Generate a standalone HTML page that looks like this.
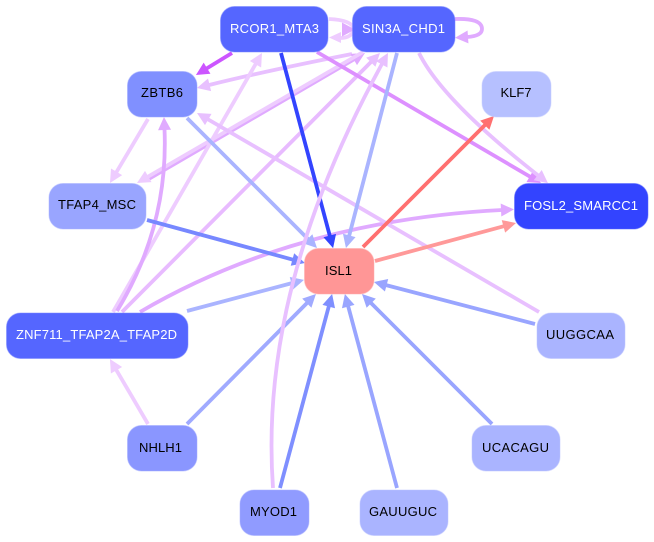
<!DOCTYPE html>
<html>
<head>
<meta charset="utf-8">
<style>
html,body{margin:0;padding:0;background:#fff;}
svg{display:block;}
marker{overflow:visible;}
text{font-family:"Liberation Sans",sans-serif;font-size:13px;text-anchor:middle;}
path.e{fill:none;stroke-width:3.8;}
rect{stroke-width:1;stroke-opacity:.5;}
</style>
</head>
<body>
<svg width="654" height="542" viewBox="0 0 654 542" xmlns="http://www.w3.org/2000/svg">
<defs>
<marker id="a1" markerUnits="userSpaceOnUse" markerWidth="16" markerHeight="14" refX="0" refY="7" orient="auto"><path d="M-1 0.500L12 7L-1 13.500z" fill="#3344ff"/></marker>
<marker id="a2" markerUnits="userSpaceOnUse" markerWidth="16" markerHeight="14" refX="0" refY="7" orient="auto"><path d="M-1 0.500L12 7L-1 13.500z" fill="#aab4ff"/></marker>
<marker id="a3" markerUnits="userSpaceOnUse" markerWidth="16" markerHeight="14" refX="0" refY="7" orient="auto"><path d="M-1 0.500L12 7L-1 13.500z" fill="#e8c0ff"/></marker>
<marker id="a4" markerUnits="userSpaceOnUse" markerWidth="16" markerHeight="14" refX="0" refY="7" orient="auto"><path d="M-1 0.500L12 7L-1 13.500z" fill="#dd90ff"/></marker>
<marker id="a5" markerUnits="userSpaceOnUse" markerWidth="16" markerHeight="14" refX="0" refY="7" orient="auto"><path d="M-1 0.500L12 7L-1 13.500z" fill="#cc55ff"/></marker>
<marker id="a6" markerUnits="userSpaceOnUse" markerWidth="16" markerHeight="14" refX="0" refY="7" orient="auto"><path d="M-1 0.500L12 7L-1 13.500z" fill="#7788ff"/></marker>
<marker id="a7" markerUnits="userSpaceOnUse" markerWidth="16" markerHeight="14" refX="0" refY="7" orient="auto"><path d="M-1 0.500L12 7L-1 13.500z" fill="#eeccff"/></marker>
<marker id="a8" markerUnits="userSpaceOnUse" markerWidth="16" markerHeight="14" refX="0" refY="7" orient="auto"><path d="M-1 0.500L12 7L-1 13.500z" fill="#e0aaff"/></marker>
<marker id="a9" markerUnits="userSpaceOnUse" markerWidth="16" markerHeight="14" refX="0" refY="7" orient="auto"><path d="M-1 0.500L12 7L-1 13.500z" fill="#a0aaff"/></marker>
<marker id="a10" markerUnits="userSpaceOnUse" markerWidth="16" markerHeight="14" refX="0" refY="7" orient="auto"><path d="M-1 0.500L12 7L-1 13.500z" fill="#7f8fff"/></marker>
<marker id="a11" markerUnits="userSpaceOnUse" markerWidth="16" markerHeight="14" refX="0" refY="7" orient="auto"><path d="M-1 0.500L12 7L-1 13.500z" fill="#99a5ff"/></marker>
<marker id="a12" markerUnits="userSpaceOnUse" markerWidth="16" markerHeight="14" refX="0" refY="7" orient="auto"><path d="M-1 0.500L12 7L-1 13.500z" fill="#ff7070"/></marker>
<marker id="a13" markerUnits="userSpaceOnUse" markerWidth="16" markerHeight="14" refX="0" refY="7" orient="auto"><path d="M-1 0.500L12 7L-1 13.500z" fill="#ff9999"/></marker>
</defs>

<!-- edges -->
<path class="e" d="M329 19Q352 20 354 29Q352 38 340 38" stroke="#eeccff"/>
<polygon points="341,32 329,37.500 341,43" fill="#eeccff"/>
<polygon points="342,22.500 355,29.500 342,36.500" fill="#e0aaff"/>
<path class="e" d="M455 19Q482 18 482 29Q482 36 467 37" stroke="#e0aaff" marker-end="url(#a8)"/>

<path class="e" d="M232 53L206.200 68.700" stroke="#cc55ff" marker-end="url(#a5)"/>
<path class="e" d="M352 54Q270 70 208.600 85.100" stroke="#e8c0ff" marker-end="url(#a3)"/>
<path class="e" d="M148 119L116.100 172.700" stroke="#eeccff" marker-end="url(#a7)"/>
<path class="e" d="M147 180L354.600 59" stroke="#e0aaff" marker-end="url(#a8)"/>
<path class="e" d="M363 52L147.400 177" stroke="#eeccff" marker-end="url(#a7)"/>
<path class="e" d="M113 312L256 63.400" stroke="#eeccff" marker-end="url(#a7)"/>
<path class="e" d="M117 311C142 270 168 210 164.500 129" stroke="#e0aaff" marker-end="url(#a8)"/>
<path class="e" d="M122 312L371.500 61.500" stroke="#e8bbff" marker-end="url(#a3)"/>
<path class="e" d="M140 312C220 265 340 218 502 210" stroke="#e0aaff" marker-end="url(#a8)"/>
<path class="e" d="M317 52L530.600 177" stroke="#dd90ff" marker-end="url(#a4)"/>
<path class="e" d="M419 53Q442 100 538.500 175.700" stroke="#e8c0ff" marker-end="url(#a3)"/>
<path class="e" d="M539 312L207.400 119" stroke="#e8c0ff" marker-end="url(#a3)"/>
<path class="e" d="M187 118L308.500 239.500" stroke="#aab4ff" marker-end="url(#a2)"/>
<path class="e" d="M397 53L349 236.400" stroke="#aab4ff" marker-end="url(#a2)"/>
<path class="e" d="M281 53L330 236.500" stroke="#3344ff" marker-end="url(#a1)"/>
<path class="e" d="M147 220L293.400 259.800" stroke="#7788ff" marker-end="url(#a6)"/>
<path class="e" d="M187 311L292.400 283" stroke="#aab4ff" marker-end="url(#a2)"/>
<path class="e" d="M148 424L116 369.400" stroke="#eeccff" marker-end="url(#a7)"/>
<path class="e" d="M187 424L307.500 302.500" stroke="#a0aaff" marker-end="url(#a9)"/>
<path class="e" d="M273 488C266 390 280 250 382.200 63.500" stroke="#e8c0ff" marker-end="url(#a3)"/>
<path class="e" d="M280 488L329 305.600" stroke="#7f8fff" marker-end="url(#a10)"/>
<path class="e" d="M397 488L348 305.600" stroke="#99a5ff" marker-end="url(#a11)"/>
<path class="e" d="M492 424L370.500 302.500" stroke="#99a5ff" marker-end="url(#a11)"/>
<path class="e" d="M535 324L385.600 285" stroke="#99a5ff" marker-end="url(#a11)"/>
<path class="e" d="M363 247L485.500 124.500" stroke="#ff7070" marker-end="url(#a12)"/>
<path class="e" d="M375 261L504.400 226.100" stroke="#ff9999" marker-end="url(#a13)"/>

<!-- nodes -->
<rect x="220.500" y="6.500" width="107.500" height="45.500" rx="14" fill="#5566ff" stroke="#7785ff"/>
<text x="274.500" y="33" fill="#fff" textLength="89" lengthAdjust="spacing">RCOR1_MTA3</text>
<rect x="352.500" y="6.500" width="102.500" height="45.500" rx="14" fill="#5566ff" stroke="#7785ff"/>
<text x="403.500" y="33" fill="#fff" textLength="83" lengthAdjust="spacing">SIN3A_CHD1</text>
<rect x="127.500" y="71.500" width="69.500" height="45.500" rx="14" fill="#8090ff" stroke="#99a5ff"/>
<text x="162" y="97" fill="#000" textLength="42" lengthAdjust="spacing">ZBTB6</text>
<rect x="482" y="71.500" width="69" height="45.500" rx="14" fill="#b6c0ff" stroke="#c6ceff"/>
<text x="516" y="97" fill="#000" textLength="31" lengthAdjust="spacing">KLF7</text>
<rect x="49" y="183.500" width="97" height="45.500" rx="14" fill="#99a5ff" stroke="#aab4ff"/>
<text x="97" y="209" fill="#000" textLength="78" lengthAdjust="spacing">TFAP4_MSC</text>
<rect x="514.500" y="183.500" width="133.500" height="45.500" rx="14" fill="#3344ff" stroke="#5566ff"/>
<text x="581" y="210" fill="#fff" textLength="114" lengthAdjust="spacing">FOSL2_SMARCC1</text>
<rect x="304.500" y="248.500" width="69.500" height="45.500" rx="14" fill="#ff9696" stroke="#ffaaaa"/>
<text x="338.500" y="275" fill="#000" textLength="27" lengthAdjust="spacing">ISL1</text>
<rect x="6.500" y="313" width="181.500" height="45.500" rx="14" fill="#5566ff" stroke="#7785ff"/>
<text x="96.500" y="339" fill="#fff" textLength="161" lengthAdjust="spacing">ZNF711_TFAP2A_TFAP2D</text>
<rect x="537" y="313" width="88" height="45.500" rx="14" fill="#aab4ff" stroke="#bcc4ff"/>
<text x="580" y="339" fill="#000" textLength="68" lengthAdjust="spacing">UUGGCAA</text>
<rect x="127.500" y="425.500" width="69.500" height="45.500" rx="14" fill="#8a96ff" stroke="#a0aaff"/>
<text x="160.500" y="452" fill="#000" textLength="43" lengthAdjust="spacing">NHLH1</text>
<rect x="472" y="425.500" width="88" height="45.500" rx="14" fill="#aab4ff" stroke="#bcc4ff"/>
<text x="515.500" y="452" fill="#000" textLength="67" lengthAdjust="spacing">UCACAGU</text>
<rect x="240" y="490" width="69" height="45.500" rx="14" fill="#909bff" stroke="#a5aeff"/>
<text x="273.500" y="516" fill="#000" textLength="47" lengthAdjust="spacing">MYOD1</text>
<rect x="360" y="490" width="88" height="45.500" rx="14" fill="#aab4ff" stroke="#bcc4ff"/>
<text x="403" y="516" fill="#000" textLength="68" lengthAdjust="spacing">GAUUGUC</text>
</svg>
</body>
</html>
